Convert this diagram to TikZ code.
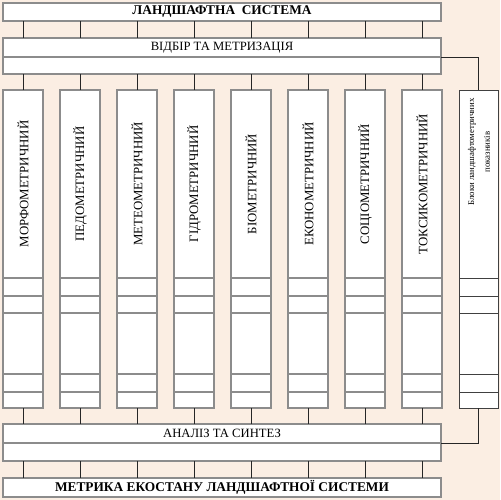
\documentclass[tikz,border=0pt]{standalone}
\usepackage{fontspec}
\setmainfont{Liberation Serif}
\usepackage{graphicx}
\usetikzlibrary{calc, positioning}
\definecolor{bgpeach}{RGB}{251,238,227}
\tikzset{
  blockbox/.style={draw=black!72, double=gray!90, double distance=0.75pt, line width=0.45pt,
    fill=white, inner sep=0pt, outer sep=0pt},
  sidebox/.style={draw=black!75, line width=0.4pt, fill=white, inner sep=0pt, outer sep=0pt},
  link/.style={draw=black!85, line width=0.5pt},
  titlefont/.style={font=\bfseries\fontsize{7.6}{9}\selectfont},
  stagefont/.style={font=\fontsize{7.2}{8}\selectfont},
  colfont/.style={font=\fontsize{7.3}{8}\selectfont},
}
\begin{document}
\begin{tikzpicture}[x=0.02cm,y=-0.02cm]
\fill[bgpeach] (0,0) rectangle (500,500);
\useasboundingbox (0,0) rectangle (500,500);

% main horizontal blocks
\node[blockbox, titlefont, minimum width=8.76cm, minimum height=0.36cm] (ls) at (222,12) {ЛАНДШАФТНА\ \ СИСТЕМА};
\node[blockbox, stagefont, minimum width=8.76cm, minimum height=0.38cm] (sel) at (222,47.5) {ВІДБІР ТА МЕТРИЗАЦІЯ};
\node[blockbox, minimum width=8.76cm, minimum height=0.34cm] (sel2) at (222,65.5) {};
\node[blockbox, stagefont, minimum width=8.76cm, minimum height=0.38cm] (an) at (222,433.5) {АНАЛІЗ ТА СИНТЕЗ};
\node[blockbox, minimum width=8.76cm, minimum height=0.36cm] (an2) at (222,452) {};
\node[blockbox, titlefont, minimum width=8.76cm, minimum height=0.38cm] (mx) at (222,487.5) {МЕТРИКА ЕКОСТАНУ ЛАНДШАФТНОЇ СИСТЕМИ};

% metric columns
\foreach \i/\name in {0/МОРФОМЕТРИЧНИЙ, 1/ПЕДОМЕТРИЧНИЙ, 2/МЕТЕОМЕТРИЧНИЙ, 3/ГІДРОМЕТРИЧНИЙ,
  4/БІОМЕТРИЧНИЙ, 5/ЕКОНОМЕТРИЧНИЙ, 6/СОЦІОМЕТРИЧНИЙ, 7/ТОКСИКОМЕТРИЧНИЙ}{
  \pgfmathsetmacro{\cx}{23+57*\i}
  \node[blockbox, colfont, minimum width=0.8cm, minimum height=3.76cm] (c\i) at (\cx,184) {\rotatebox{90}{\name}};
  \foreach \k/\cy/\h in {1/287/0.36, 2/304.5/0.34, 3/343.5/1.22, 4/383/0.36, 5/400/0.32}{
    \node[blockbox, minimum width=0.8cm, minimum height=\h cm] (c\i-\k) at (\cx,\cy) {};
  }
  \draw[link] (ls.south -| c\i.north) -- (sel.north -| c\i.north);
  \draw[link] (sel2.south -| c\i.north) -- (c\i.north);
  \draw[link] (c\i-5.south) -- (an.north -| c\i-5.south);
  \draw[link] (an2.south -| c\i.north) -- (mx.north -| c\i.north);
}

% side column of blocks
\node[sidebox, minimum width=0.78cm, minimum height=3.76cm] (b0) at (478.5,184) {};
\foreach \k/\cy/\h in {1/287/0.36, 2/304.5/0.34, 3/343.5/1.22, 4/383/0.36, 5/400/0.32}{
  \node[sidebox, minimum width=0.78cm, minimum height=\h cm] (b\k) at (478.5,\cy) {};
}
\node[rotate=90, align=center, font=\fontsize{5}{9}\selectfont] (blk) at (479,152) {Блоки ландшафтометричних\\показників};
\draw[link] (sel.south east) -| (b0.north);
\draw[link] (b5.south) |- (an.south east);
\end{tikzpicture}
\end{document}
